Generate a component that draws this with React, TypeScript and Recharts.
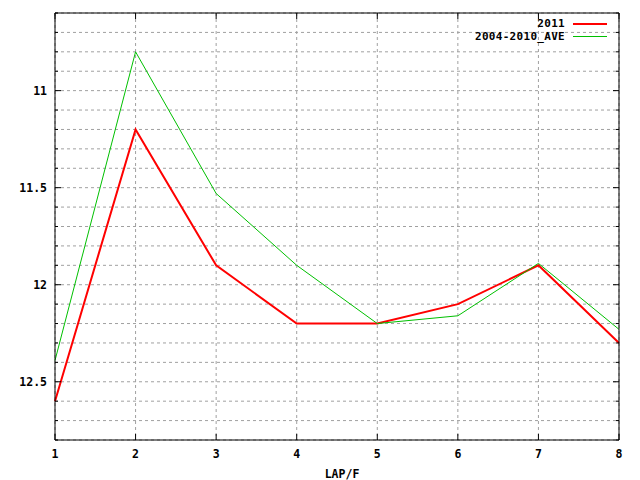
import { CartesianGrid, Legend, Line, LineChart, XAxis, YAxis } from "recharts"

const laps = [1, 2, 3, 4, 5, 6, 7, 8]
const times2011 = [12.6, 11.2, 11.9, 12.2, 12.2, 12.1, 11.9, 12.3]
const timesAve = [12.39, 10.8, 11.53, 11.9, 12.2, 12.16, 11.89, 12.23]
const yTicks = [10.6, 10.7, 10.8, 10.9, 11, 11.1, 11.2, 11.3, 11.4, 11.5, 11.6, 11.7, 11.8, 11.9, 12, 12.1, 12.2, 12.3, 12.4, 12.5, 12.6, 12.7, 12.8]
const yLabels = ["11", "11.5", "12", "12.5"]

const data = laps.map((lap, i) => ({
  lap,
  y2011: times2011[i],
  ave: timesAve[i],
}))

const FONT = "'DejaVu Sans Mono', monospace"
const TICK = 8

const fmt = (v: number) => {
  const s = String(Math.round(v * 10) / 10)
  return yLabels.includes(s) ? s : ""
}

function LeftTick({ x, y, payload }: any) {
  const label = fmt(payload.value)
  const len = label ? 6 : 3
  return (
    <g>
      <line x1={x + TICK} x2={x + TICK + len} y1={y} y2={y} stroke="#000" />
      {label && (
        <text x={x} y={y} dy={4} textAnchor="end" fontFamily={FONT} fontWeight="bold" fontSize={11.5} fill="#000">
          {label}
        </text>
      )}
    </g>
  )
}

function RightTick({ x, y, payload }: any) {
  const len = fmt(payload.value) ? 6 : 3
  return <line x1={x - TICK} x2={x - TICK - len} y1={y} y2={y} stroke="#000" />
}

function BottomTick({ x, y, payload }: any) {
  return (
    <g>
      <line x1={x} x2={x} y1={y - TICK} y2={y - TICK - 6} stroke="#000" />
      <text x={x} y={y} dy={10} textAnchor="middle" fontFamily={FONT} fontWeight="bold" fontSize={11.5} fill="#000">
        {payload.value}
      </text>
    </g>
  )
}

function TopTick({ x, y }: any) {
  return <line x1={x} x2={x} y1={y + TICK} y2={y + TICK + 6} stroke="#000" />
}

const legendRows = [
  { name: "2011", color: "#ff0000", width: 2 },
  { name: "2004-2010_AVE", color: "#00c000", width: 1 },
]

function LegendBox() {
  return (
    <div style={{ fontFamily: FONT, fontWeight: "bold", fontSize: 11, letterSpacing: 0.3 }}>
      {legendRows.map((r) => (
        <div key={r.name} style={{ display: "flex", alignItems: "center", justifyContent: "flex-end", height: 13 }}>
          <span style={{ lineHeight: "13px" }}>{r.name}</span>
          <span style={{ display: "inline-block", marginLeft: 8, width: 34, height: r.width, background: r.color }} />
        </div>
      ))}
    </div>
  )
}

export default function App() {
  return (
    <div style={{ position: "absolute", left: 0, top: 0, background: "#fff" }}>
      <LineChart width={640} height={480} data={data} margin={{ top: 0, right: 0, bottom: 0, left: 0 }}>
        <CartesianGrid stroke="#a0a0a0" strokeDasharray="3 3" />
        <XAxis
          dataKey="lap"
          type="number"
          domain={[1, 8]}
          ticks={laps}
          height={40}
          tickSize={TICK}
          tickMargin={0}
          tickLine={false}
          tick={<BottomTick />}
          axisLine={{ stroke: "#000" }}
          label={{ value: "LAP/F", position: "insideBottom", offset: 2, dx: 5, fontFamily: FONT, fontWeight: "bold", fontSize: 11.5, fill: "#000" }}
        />
        <XAxis
          xAxisId="top"
          orientation="top"
          dataKey="lap"
          type="number"
          domain={[1, 8]}
          ticks={laps}
          height={13}
          tickSize={TICK}
          tickMargin={0}
          tickLine={false}
          tick={<TopTick />}
          axisLine={{ stroke: "#000" }}
        />
        <YAxis
          type="number"
          domain={[10.6, 12.8]}
          reversed
          ticks={yTicks}
          interval={0}
          width={55}
          tickSize={TICK}
          tickMargin={0}
          tickLine={false}
          tick={<LeftTick />}
          axisLine={{ stroke: "#000" }}
          allowDataOverflow
        />
        <YAxis
          yAxisId="right"
          orientation="right"
          type="number"
          domain={[10.6, 12.8]}
          reversed
          ticks={yTicks}
          interval={0}
          width={21}
          tickSize={TICK}
          tickMargin={0}
          tickLine={false}
          tick={<RightTick />}
          axisLine={{ stroke: "#000" }}
          allowDataOverflow
        />
        <Legend
          layout="vertical"
          verticalAlign="middle"
          align="center"
          content={<LegendBox />}
          wrapperStyle={{ position: "absolute", top: 17, right: 33, left: "auto", width: "auto" }}
        />
        <Line dataKey="y2011" name="2011" stroke="#ff0000" strokeWidth={2} dot={false} isAnimationActive={false} />
        <Line dataKey="ave" name="2004-2010_AVE" stroke="#00c000" strokeWidth={1} dot={false} isAnimationActive={false} />
      </LineChart>
    </div>
  )
}
